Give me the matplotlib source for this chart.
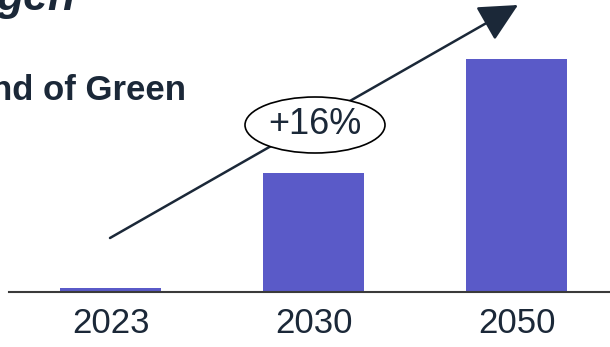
import matplotlib
matplotlib.use("Agg")
import matplotlib.pyplot as plt
from matplotlib.patches import Ellipse

years = ["2023", "2030", "2050"]
demand = [0.5, 15.3, 30.0]
growth_label = "+16%"
title_fragment = "gen"
subtitle_fragment = "nd of Green"

W, H = 610, 347
TXT = "#1B2838"
BAR = "#5A5AC8"

plt.rcParams['font.family'] = ['Liberation Sans', 'DejaVu Sans']

fig = plt.figure(figsize=(W / 100, H / 100), dpi=100)
ax = fig.add_axes([9 / W, (H - 292) / H, 1 - 9 / W, 292 / H])

x = list(range(len(years)))
ax.bar(x, demand, width=0.5, color=BAR, zorder=2)
ax.set_xlim(-0.5, 2.46)
ax.set_ylim(0, 30.0 * 292 / 233)
ax.set_xticks(x)
ax.set_xticklabels(years, fontsize=25, color=TXT)
ax.tick_params(axis='x', length=0, pad=11)
ax.set_yticks([])
for s in ['top', 'right', 'left']:
    ax.spines[s].set_visible(False)
ax.spines['bottom'].set_color('#3A3A3A')
ax.spines['bottom'].set_linewidth(1.5)
ax.spines['bottom'].set_zorder(3)
ax.patch.set_alpha(0)

def fp(px, py):
    return (px / W, (H - py) / H)

# arrow
ax.annotate("", xy=fp(518, 5), xytext=fp(110, 238),
            xycoords='figure fraction', textcoords='figure fraction',
            arrowprops=dict(arrowstyle="-|>,head_length=1.2,head_width=0.6",
                            color=TXT, lw=1.8, shrinkA=0, shrinkB=0,
                            mutation_scale=20),
            zorder=4)

# ellipse with growth
cx, cy = fp(315, 125)
ell = Ellipse((cx, cy), 140 / W, 56 / H, transform=fig.transFigure,
              facecolor='white', edgecolor='black', lw=1.2, zorder=5)
fig.patches.append(ell)
fig.text(cx, cy, growth_label, fontsize=26, color=TXT, ha='center', va='center',
         zorder=6)

# title fragments
fig.text(*fp(186, 100), subtitle_fragment, fontsize=25, fontweight='bold',
         color=TXT, ha='right', va='baseline')
fig.text(*fp(75, 10), title_fragment, fontsize=32, fontweight='bold',
         fontstyle='italic', color=TXT, ha='right', va='baseline')

fig.savefig("out.png", dpi=100)
